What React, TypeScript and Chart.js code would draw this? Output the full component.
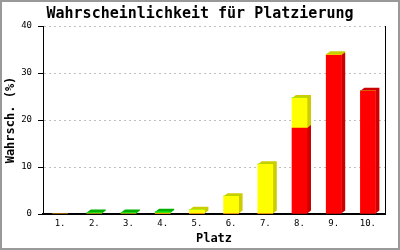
import React, { useEffect, useRef } from "react";
import { Chart, registerables } from "chart.js";

Chart.register(...registerables);

const categories = ["1.", "2.", "3.", "4.", "5.", "6.", "7.", "8.", "9.", "10."];
const redValues = [0, 0, 0, 0, 0, 0, 0, 18.3, 33.8, 26.2];
const yellowValues = [0, 0, 0, 0.2, 0.9, 3.8, 10.6, 6.4, 0.2, 0];
const greenValues = [0, 0.3, 0.3, 0.3, 0, 0, 0, 0, 0, 0];
const yTicks = [0, 10, 20, 30, 40];

const MONO = "'DejaVu Sans Mono', 'Liberation Mono', monospace";
const DX = 4;
const DY = 3;

const depthPlugin = {
  id: "depth3d",
  beforeDatasetsDraw(chart: any) {
    const ctx = chart.ctx;
    ctx.save();
    chart.data.datasets.forEach((ds: any, i: number) => {
      const meta = chart.getDatasetMeta(i);
      meta.data.forEach((el: any) => {
        const { x, y, base, width } = el.getProps(["x", "y", "base", "width"], true);
        if (Math.abs(base - y) < 0.5) return;
        const left = x - width / 2;
        const right = x + width / 2;
        const top = Math.min(y, base);
        const bottom = Math.max(y, base);
        ctx.fillStyle = ds.depthColor;
        ctx.beginPath();
        ctx.moveTo(left, top);
        ctx.lineTo(left + DX, top - DY);
        ctx.lineTo(right + DX, top - DY);
        ctx.lineTo(right + DX, bottom - DY);
        ctx.lineTo(right, bottom);
        ctx.lineTo(right, top);
        ctx.closePath();
        ctx.fill();
      });
    });
    ctx.restore();
  },
};

const framePlugin = {
  id: "frame",
  beforeDraw(chart: any) {
    const ctx = chart.ctx;
    ctx.save();
    ctx.fillStyle = "#ffffff";
    ctx.fillRect(0, 0, chart.width, chart.height);
    ctx.restore();
  },
  afterDraw(chart: any) {
    const ctx = chart.ctx;
    ctx.save();
    ctx.strokeStyle = "#999";
    ctx.lineWidth = 2;
    ctx.strokeRect(1, 1, chart.width - 2, chart.height - 2);
    ctx.restore();
  },
};

export default function App() {
  const ref = useRef<HTMLCanvasElement | null>(null);

  useEffect(() => {
    if (!ref.current) return;
    const chart = new Chart(ref.current, {
      type: "bar",
      data: {
        labels: categories,
        datasets: [
          { label: "rot", data: redValues, backgroundColor: "#ff0000", depthColor: "#cc0000" } as any,
          { label: "gelb", data: yellowValues, backgroundColor: "#ffff00", depthColor: "#cccc00" } as any,
          { label: "grün", data: greenValues, backgroundColor: "#00dd00", depthColor: "#00b000" } as any,
        ],
      },
      options: {
        animation: false,
        responsive: false,
        maintainAspectRatio: false,
        devicePixelRatio: 1,
        layout: { padding: { left: 2, right: 2, top: 0, bottom: 2 } },
        datasets: { bar: { barThickness: 15, borderWidth: 0 } },
        plugins: {
          legend: { display: false },
          tooltip: { enabled: false },
          title: {
            display: true,
            text: "Wahrscheinlichkeit für Platzierung",
            color: "#000",
            font: { family: MONO, size: 15, weight: "bold", lineHeight: 1.2 },
            padding: { top: 5, bottom: 3 },
          },
        },
        scales: {
          x: {
            stacked: true,
            grid: { display: true, drawOnChartArea: false, drawTicks: false },
            border: { display: true, color: "#000", width: 2 },
            ticks: { color: "#000", padding: 4, font: { family: MONO, size: 9 } },
            title: {
              display: true,
              text: "Platz",
              color: "#000",
              font: { family: MONO, size: 12, weight: "bold", lineHeight: 1.2 },
              padding: { top: 0, bottom: 2 },
            },
            afterFit: (s: any) => {
              s.height = 34;
            },
          },
          y: {
            stacked: true,
            min: 0,
            max: 40,
            afterBuildTicks: (s: any) => {
              s.ticks = yTicks.map((v) => ({ value: v }));
            },
            grid: {
              color: (c: any) => (c.tick && c.tick.value === 0 ? "rgba(0,0,0,0)" : "#c0c0c0"),
              tickColor: "#000",
              tickBorderDash: [],
              tickLength: 5,
              lineWidth: 1,
            },
            border: { display: true, color: "#000", width: 1, dash: [2, 3] },
            ticks: { color: "#000", padding: 6, font: { family: MONO, size: 9 } },
            title: {
              display: true,
              text: "Wahrsch. (%)",
              color: "#000",
              font: { family: MONO, size: 12, weight: "bold", lineHeight: 1.2 },
              padding: { top: 2, bottom: 0 },
            },
            afterFit: (s: any) => {
              s.width = 41;
            },
          },
          yRight: {
            position: "right",
            display: true,
            min: 0,
            max: 40,
            grid: { display: true, drawOnChartArea: false, drawTicks: false },
            border: { display: true, color: "#000", width: 1 },
            ticks: { display: false },
            afterFit: (s: any) => {
              s.width = 13;
            },
          },
        },
      } as any,
      plugins: [depthPlugin, framePlugin],
    });
    return () => chart.destroy();
  }, []);

  return (
    <div style={{ position: "absolute", left: 0, top: 0, width: 400, height: 250 }}>
      <canvas ref={ref} width={400} height={250} style={{ width: 400, height: 250, display: "block" }} />
    </div>
  );
}
